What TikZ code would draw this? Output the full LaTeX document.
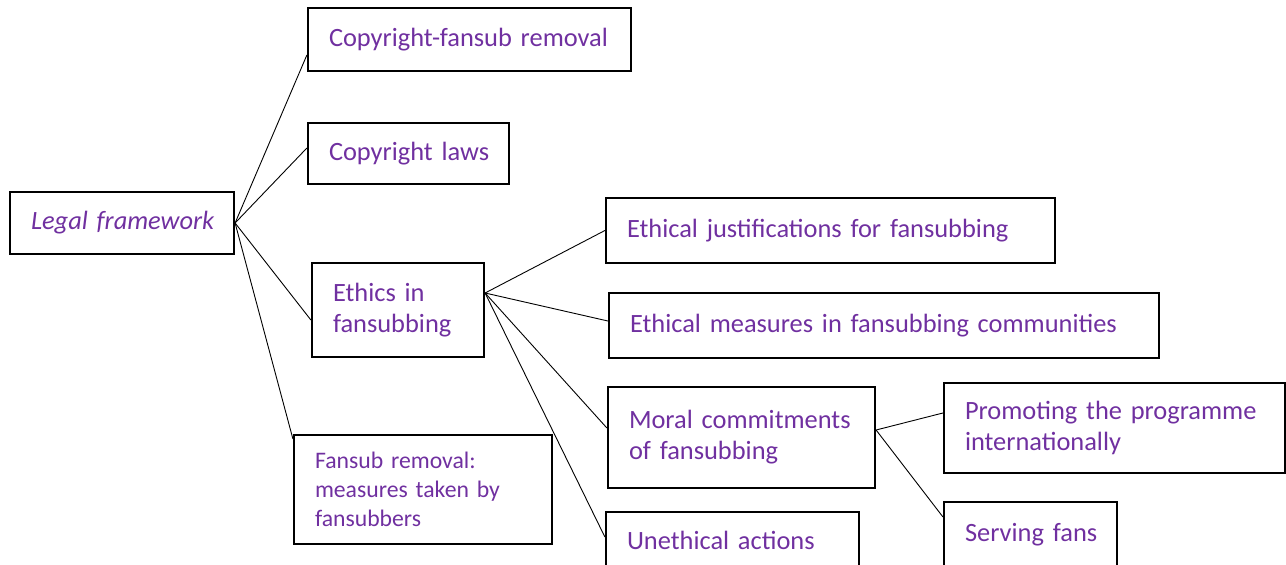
\documentclass[tikz,border=0pt]{standalone}
\usepackage{fontspec}
\setmainfont{Carlito}
\definecolor{txtpurple}{RGB}{112,48,160}
\newcommand\keepwords{\exhyphenpenalty=10000\relax\hyphenpenalty=10000\relax}
\begin{document}
\begin{tikzpicture}[x=1pt,y=-1pt,
  box/.style={draw=black, line width=2.2pt, rectangle, inner xsep=21pt, inner ysep=0pt,
    align=left, text=txtpurple,
    font=\fontsize{26.4}{31}\selectfont\keepwords},
  smallbox/.style={box, font=\fontsize{23.7}{29}\selectfont\keepwords},
  link/.style={draw=black, line width=0.9pt}]
\useasboundingbox (0,0) rectangle (1286,565);
\clip (0,0) rectangle (1286,565);

% root
\node[box, text width=182pt, minimum height=62pt] (lf) at (122,223) {\mbox{\itshape Legal framework}};

% first level
\node[box, text width=281pt, minimum height=63pt] (cfr) at (469.5,39.5) {\mbox{Copyright-fansub removal}};
\node[box, text width=159pt, minimum height=61pt] (cl) at (408.5,153.5) {\mbox{Copyright laws}};
\node[box, text width=130pt, minimum height=94pt] (eth) at (398,310) {Ethics in\\fansubbing};
\node[smallbox, text width=216pt, minimum height=109pt] (fr) at (423,489.5) {Fansub removal:\\measures taken by\\fansubbers};

% second level
\node[box, text width=407pt, minimum height=65pt] (ej) at (830.5,230.5) {\mbox{Ethical justifications for fansubbing}};
\node[box, text width=508pt, minimum height=65pt] (em) at (884,325.5) {\mbox{Ethical measures in fansubbing communities}};
\node[box, text width=225pt, minimum height=101pt] (mc) at (741.5,437.5) {Moral commitments\\of fansubbing};
\node[box, text width=211pt, minimum height=56pt] (ua) at (732.5,540) {\mbox{Unethical actions}};

% third level
\node[box, text width=299pt, minimum height=90pt] (pr) at (1114.5,428) {Promoting the programme\\internationally};
\node[box, text width=131pt, minimum height=66pt] (sf) at (1030.5,535) {\mbox{Serving fans}};

% branching points
\coordinate (ethhub) at ([yshift=17pt]eth.east);
\coordinate (mchub) at ([yshift=7.5pt]mc.east);

% connectors
\draw[link] (lf.east) -- ([yshift=-15.5pt]cfr.west);
\draw[link] (lf.east) -- ([yshift=5.5pt]cl.west);
\draw[link] (lf.east) -- ([yshift=-10pt]eth.west);
\draw[link] (lf.east) -- ([yshift=-5pt]fr.north west);

\draw[link] (ethhub) -- (ej.west);
\draw[link] (ethhub) -- ([yshift=4.5pt]em.west);
\draw[link] (ethhub) -- ([yshift=9.5pt]mc.west);
\draw[link] (ethhub) -- ([yshift=3pt]ua.west);

\draw[link] (mchub) -- ([yshift=15pt]pr.west);
\draw[link] (mchub) -- ([yshift=-16pt]sf.north west);
\end{tikzpicture}
\end{document}
